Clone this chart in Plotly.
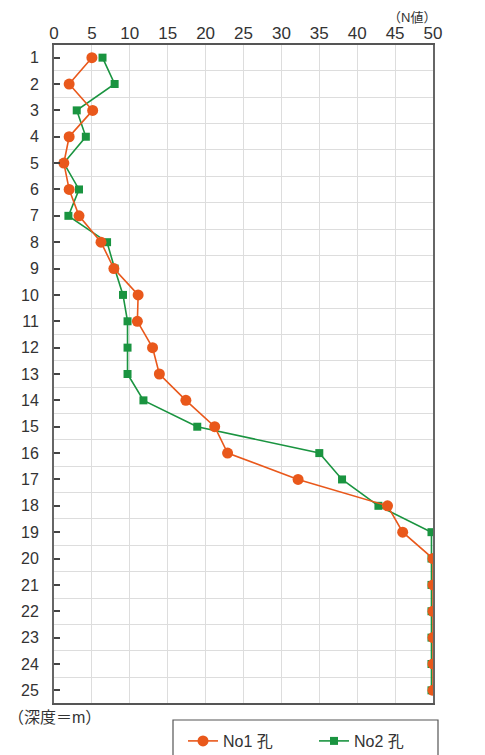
import plotly.graph_objects as go

depth = list(range(1, 26))
no1 = [5.0, 2.0, 5.1, 2.0, 1.3, 2.0, 3.3, 6.2, 7.9, 11.1, 11.0, 13.0, 13.9, 17.4, 21.2, 22.9, 32.2, 44.0, 46.0, 50, 50, 50, 50, 50, 50]
no2 = [6.4, 8.0, 3.0, 4.2, 1.3, 3.3, 1.9, 7.0, 8.0, 9.1, 9.7, 9.7, 9.7, 11.8, 18.9, 35.0, 38.0, 42.8, 49.8, 49.8, 49.8, 49.8, 49.8, 49.8, 49.8]
names = ["No1 孔", "No2 孔"]
x_ticks = list(range(0, 51, 5))

ORANGE = "#E9581B"
GREEN = "#1A9440"
FONT = "Liberation Sans, Noto Sans CJK JP, sans-serif"

OFF = 8  # default body margin of the html page
W, H = 485 - OFF, 755 - OFF
L, R, T, B = 46, 52, 37, 52
PW, PH = W - L - R, H - T - B


def px_x(px):
    return (px - OFF - L) / PW


def px_y(py):
    return (H - B - (py - OFF)) / PH


fig = go.Figure()
fig.add_trace(go.Scatter(x=no2, y=depth, name=names[1], mode="lines+markers",
                         line=dict(color=GREEN, width=1.6),
                         marker=dict(symbol="square", size=8, color=GREEN)))
fig.add_trace(go.Scatter(x=no1, y=depth, name=names[0], mode="lines+markers",
                         line=dict(color=ORANGE, width=1.6),
                         marker=dict(symbol="circle", size=11, color=ORANGE)))

fig.update_layout(
    width=W, height=H,
    margin=dict(l=L, r=R, t=T, b=B, autoexpand=False),
    paper_bgcolor="white", plot_bgcolor="white",
    font=dict(family=FONT, size=16, color="#333333"),
    showlegend=True,
    legend=dict(orientation="h", x=px_x(183), y=px_y(741), xanchor="left", yanchor="middle",
                borderwidth=0, traceorder="reversed", entrywidth=86, bgcolor="rgba(0,0,0,0)",
                font=dict(size=16, color="#333333")),
    xaxis=dict(side="top", range=[0, 50], tickvals=x_ticks, ticktext=[str(v) for v in x_ticks],
               showgrid=True, gridcolor="#DDDDDD", gridwidth=1, ticks="", zeroline=False,
               showline=True, linecolor="#555555", linewidth=1.5, mirror=True,
               ticklabelstandoff=-3,
               tickfont=dict(size=17, color="#333333")),
    yaxis=dict(range=[25.48, 0.52], tickvals=depth, ticktext=[str(v) for v in depth],
               showgrid=False, ticks="inside", ticklen=6, tickcolor="#444444", tickwidth=1.5,
               zeroline=False, showline=True, linecolor="#666666", linewidth=2, mirror=True,
               ticklabelstandoff=10,
               tickfont=dict(size=16, color="#333333"),
               minor=dict(tickvals=[v + 0.5 for v in range(0, 26)], showgrid=True,
                          gridcolor="#DDDDDD", gridwidth=1, ticks="")),
)

# legend frame (extends below the visible page like the reference)
fig.add_shape(type="rect", xref="paper", yref="paper",
              x0=px_x(173), x1=px_x(438), y0=px_y(770), y1=px_y(720),
              line=dict(color="#555555", width=1.2), fillcolor="rgba(0,0,0,0)", layer="above")

fig.add_annotation(text="（N値）", xref="paper", yref="paper", x=px_x(438), y=px_y(8),
                   xanchor="right", yanchor="top", showarrow=False,
                   font=dict(size=13, color="#333333"))
fig.add_annotation(text="（深度＝m）", xref="paper", yref="paper", x=px_x(6), y=px_y(707),
                   xanchor="left", yanchor="top", showarrow=False,
                   font=dict(size=16, color="#333333"))

fig.write_html("out.html")
